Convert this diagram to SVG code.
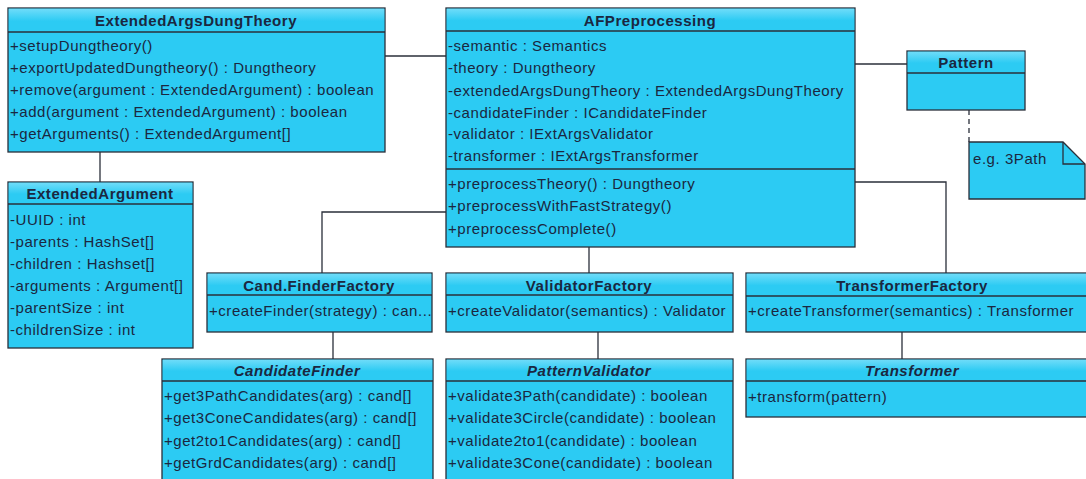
<svg xmlns="http://www.w3.org/2000/svg" width="1086" height="479" viewBox="0 0 1086 479">
  <style>
    .box { fill: #2ccbf3; stroke: #2a2f3a; stroke-width: 1.3; }
    .bar { fill: url(#barGrad); }
    .sep { stroke: #2a2f3a; stroke-width: 1.3; }
    .t { font-family: "Liberation Sans", Arial, sans-serif; font-size: 15px; letter-spacing: 0.55px; fill: #1b2740; }
    .h { font-family: "Liberation Sans", Arial, sans-serif; font-size: 15px; letter-spacing: 0.55px; font-weight: bold; fill: #1b2740; text-anchor: middle; }
    .i { font-style: italic; }
    .conn { stroke: #2a2f3a; stroke-width: 1.3; fill: none; }
    .dash { stroke-dasharray: 5 4; }
  </style>
  <defs>
    <linearGradient id="barGrad" x1="0" y1="0" x2="0" y2="1">
      <stop offset="0" stop-color="#6fdcf9"/>
      <stop offset="0.55" stop-color="#2ccbf3"/>
      <stop offset="1" stop-color="#2ccbf3"/>
    </linearGradient>
  </defs>
  <rect width="1086" height="479" fill="#ffffff"/>

  <!-- connectors -->
  <g id="connectors">
    <line class="conn" x1="385" y1="56" x2="446" y2="56"/>
    <line class="conn" x1="100" y1="152" x2="100" y2="182"/>
    <polyline class="conn" points="446,212 322,212 322,273"/>
    <line class="conn" x1="589" y1="247" x2="589" y2="273"/>
    <line class="conn" x1="855" y1="64" x2="907" y2="64"/>
    <polyline class="conn" points="855,182 946,182 946,273"/>
    <line class="conn dash" x1="969" y1="110" x2="969" y2="142"/>
    <line class="conn" x1="333" y1="332" x2="333" y2="359"/>
    <line class="conn" x1="598" y1="332" x2="598" y2="359"/>
    <line class="conn" x1="902" y1="332" x2="902" y2="359"/>
  </g>

  <!-- ExtendedArgsDungTheory -->
  <g id="extendedArgsDungTheory">
    <rect class="box" x="8" y="8" width="377" height="144"/>
    <rect class="bar" x="8.7" y="8.7" width="375.6" height="22.6"/>
    <line class="sep" x1="8" y1="32" x2="385" y2="32"/>
    <text class="h" x="196" y="25.5">ExtendedArgsDungTheory</text>
    <text class="t" x="10" y="50.5">+setupDungtheory()</text>
    <text class="t" x="10" y="72.5">+exportUpdatedDungtheory() : Dungtheory</text>
    <text class="t" x="10" y="94.5">+remove(argument : ExtendedArgument) : boolean</text>
    <text class="t" x="10" y="116.5">+add(argument : ExtendedArgument) : boolean</text>
    <text class="t" x="10" y="138.5">+getArguments() : ExtendedArgument[]</text>
  </g>

  <!-- AFPreprocessing -->
  <g id="afPreprocessing">
    <rect class="box" x="446" y="8" width="409" height="239"/>
    <rect class="bar" x="446.7" y="8.7" width="407.6" height="21.6"/>
    <line class="sep" x1="446" y1="31" x2="855" y2="31"/>
    <line class="sep" x1="446" y1="169" x2="855" y2="169"/>
    <text class="h" x="650" y="25.5">AFPreprocessing</text>
    <text class="t" x="448" y="50.5">-semantic : Semantics</text>
    <text class="t" x="448" y="72.5">-theory : Dungtheory</text>
    <text class="t" x="448" y="95.5">-extendedArgsDungTheory : ExtendedArgsDungTheory</text>
    <text class="t" x="448" y="117.5">-candidateFinder : ICandidateFinder</text>
    <text class="t" x="448" y="138.5">-validator : IExtArgsValidator</text>
    <text class="t" x="448" y="160.5">-transformer : IExtArgsTransformer</text>
    <text class="t" x="448" y="188.5">+preprocessTheory() : Dungtheory</text>
    <text class="t" x="448" y="210.5">+preprocessWithFastStrategy()</text>
    <text class="t" x="448" y="233.5">+preprocessComplete()</text>
  </g>

  <!-- Pattern -->
  <g id="pattern">
    <rect class="box" x="907" y="51" width="118" height="59"/>
    <rect class="bar" x="907.7" y="51.7" width="116.6" height="20.6"/>
    <line class="sep" x1="907" y1="73" x2="1025" y2="73"/>
    <text class="h" x="966" y="68">Pattern</text>
  </g>

  <!-- note -->
  <g id="patternNote">
    <path class="box" d="M969,142 H1063 L1085,164 V199 H969 Z"/>
    <polyline class="conn" points="1063,142 1063,164 1085,164"/>
    <text class="t" x="973" y="163.5">e.g. 3Path</text>
  </g>

  <!-- ExtendedArgument -->
  <g id="extendedArgument">
    <rect class="box" x="8" y="182" width="185" height="166"/>
    <rect class="bar" x="8.7" y="182.7" width="183.6" height="20.6"/>
    <line class="sep" x1="8" y1="204" x2="193" y2="204"/>
    <text class="h" x="100" y="198.5">ExtendedArgument</text>
    <text class="t" x="10" y="224.5">-UUID : int</text>
    <text class="t" x="10" y="246.5">-parents : HashSet[]</text>
    <text class="t" x="10" y="268.5">-children : Hashset[]</text>
    <text class="t" x="10" y="291">-arguments : Argument[]</text>
    <text class="t" x="10" y="312.5">-parentSize : int</text>
    <text class="t" x="10" y="334.5">-childrenSize : int</text>
  </g>

  <!-- Cand.FinderFactory -->
  <g id="candFinderFactory">
    <rect class="box" x="207" y="273" width="225" height="59"/>
    <rect class="bar" x="207.7" y="273.7" width="223.6" height="21.6"/>
    <line class="sep" x1="207" y1="295" x2="432" y2="295"/>
    <text class="h" x="319" y="290.5">Cand.FinderFactory</text>
    <text class="t" x="209" y="315.5">+createFinder(strategy) : can...</text>
  </g>

  <!-- ValidatorFactory -->
  <g id="validatorFactory">
    <rect class="box" x="446" y="273" width="287" height="59"/>
    <rect class="bar" x="446.7" y="273.7" width="285.6" height="21.6"/>
    <line class="sep" x1="446" y1="295" x2="733" y2="295"/>
    <text class="h" x="589" y="290.5">ValidatorFactory</text>
    <text class="t" x="448" y="315.5">+createValidator(semantics) : Validator</text>
  </g>

  <!-- TransformerFactory -->
  <g id="transformerFactory">
    <rect class="box" x="746" y="273" width="345" height="59"/>
    <rect class="bar" x="746.7" y="273.7" width="343.6" height="21.6"/>
    <line class="sep" x1="746" y1="296" x2="1091" y2="296"/>
    <text class="h" x="912" y="290.5">TransformerFactory</text>
    <text class="t" x="748" y="315.5">+createTransformer(semantics) : Transformer</text>
  </g>

  <!-- CandidateFinder -->
  <g id="candidateFinder">
    <rect class="box" x="162" y="359" width="271" height="130"/>
    <rect class="bar" x="162.7" y="359.7" width="269.6" height="20.6"/>
    <line class="sep" x1="162" y1="381" x2="433" y2="381"/>
    <text class="h i" x="297" y="375.5">CandidateFinder</text>
    <text class="t" x="164" y="400.5">+get3PathCandidates(arg) : cand[]</text>
    <text class="t" x="164" y="422.5">+get3ConeCandidates(arg) : cand[]</text>
    <text class="t" x="164" y="445.5">+get2to1Candidates(arg) : cand[]</text>
    <text class="t" x="164" y="467.5">+getGrdCandidates(arg) : cand[]</text>
  </g>

  <!-- PatternValidator -->
  <g id="patternValidator">
    <rect class="box" x="446" y="359" width="287" height="130"/>
    <rect class="bar" x="446.7" y="359.7" width="285.6" height="20.6"/>
    <line class="sep" x1="446" y1="381" x2="733" y2="381"/>
    <text class="h i" x="589" y="375.5">PatternValidator</text>
    <text class="t" x="448" y="400.5">+validate3Path(candidate) : boolean</text>
    <text class="t" x="448" y="422.5">+validate3Circle(candidate) : boolean</text>
    <text class="t" x="448" y="445.5">+validate2to1(candidate) : boolean</text>
    <text class="t" x="448" y="467.5">+validate3Cone(candidate) : boolean</text>
  </g>

  <!-- Transformer -->
  <g id="transformer">
    <rect class="box" x="746" y="359" width="345" height="58"/>
    <rect class="bar" x="746.7" y="359.7" width="343.6" height="20.6"/>
    <line class="sep" x1="746" y1="381" x2="1091" y2="381"/>
    <text class="h i" x="912" y="375.5">Transformer</text>
    <text class="t" x="748" y="401.5">+transform(pattern)</text>
  </g>
</svg>
